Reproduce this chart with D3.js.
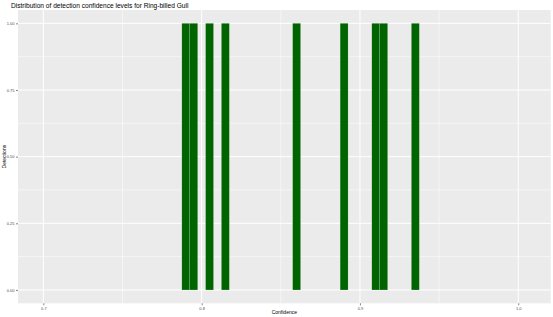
<!DOCTYPE html>
<html>
  <head>
    <meta charset="utf-8">
    <title>Ring-billed Gull confidence</title>
    <script src="https://cdnjs.cloudflare.com/ajax/libs/d3/7.8.5/d3.min.js"></script>
    <style>
      body { margin: 0; background-color: #FFF; }
      svg { display: block; font-family: "Liberation Sans", Arial, sans-serif; }
    </style>
  </head>
  <body>
    <svg width="553" height="317"></svg>
    <script>
      // histogram bins (bin centre, count)
      var binCenters = [0.790, 0.795, 0.805, 0.815, 0.860, 0.890, 0.910, 0.915, 0.935];
      var counts = [1, 1, 1, 1, 1, 1, 1, 1, 1];
      var binWidth = 0.005;
      var xTicks = [0.7, 0.8, 0.9, 1.0];
      var xMinor = [0.75, 0.85, 0.95];
      var yTicks = [0, 0.25, 0.5, 0.75, 1];
      var yMinor = [0.125, 0.375, 0.625, 0.875];

      var svg = d3.select("svg");
      // panel edges (note: "top" is reserved on window, so use pTop etc.)
      var pLeft = 18, pRight = 550.7, pTop = 10, pBottom = 303.3;

      var x = d3.scaleLinear().domain([0.684, 1.0205]).range([pLeft, pRight]);
      var y = d3.scaleLinear().domain([-0.05, 1.05]).range([pBottom, pTop]);

      // panel
      svg.append("rect")
        .attr("x", pLeft).attr("y", pTop)
        .attr("width", pRight - pLeft).attr("height", pBottom - pTop)
        .attr("fill", "#EBEBEB");

      // gridlines
      svg.selectAll(".ymin").data(yMinor).enter().append("line")
        .attr("x1", pLeft).attr("x2", pRight)
        .attr("y1", function(d) { return y(d); }).attr("y2", function(d) { return y(d); })
        .attr("stroke", "#FFF").attr("stroke-width", 0.5);
      svg.selectAll(".xmin").data(xMinor).enter().append("line")
        .attr("y1", pTop).attr("y2", pBottom)
        .attr("x1", function(d) { return x(d); }).attr("x2", function(d) { return x(d); })
        .attr("stroke", "#FFF").attr("stroke-width", 0.5);
      svg.selectAll(".ymaj").data(yTicks).enter().append("line")
        .attr("x1", pLeft).attr("x2", pRight)
        .attr("y1", function(d) { return y(d); }).attr("y2", function(d) { return y(d); })
        .attr("stroke", "#FFF").attr("stroke-width", 1);
      svg.selectAll(".xmaj").data(xTicks).enter().append("line")
        .attr("y1", pTop).attr("y2", pBottom)
        .attr("x1", function(d) { return x(d); }).attr("x2", function(d) { return x(d); })
        .attr("stroke", "#FFF").attr("stroke-width", 1);

      // bars
      svg.selectAll(".bar").data(binCenters).enter().append("rect")
        .attr("x", function(d) { return x(d - binWidth / 2); })
        .attr("width", function(d) { return x(d + binWidth / 2) - x(d - binWidth / 2); })
        .attr("y", function(d, i) { return y(counts[i]); })
        .attr("height", function(d, i) { return y(0) - y(counts[i]); })
        .attr("fill", "#006400")
        .attr("stroke", "rgba(255,255,255,0.35)")
        .attr("stroke-width", 0.4);

      // axes
      var xAxis = d3.axisBottom(x).tickValues(xTicks).tickFormat(d3.format(".1f")).tickSize(2).tickPadding(1.5);
      var gx = svg.append("g").attr("transform", "translate(0," + pBottom + ")").call(xAxis);
      var yAxis = d3.axisLeft(y).tickValues(yTicks).tickFormat(d3.format(".2f")).tickSize(2).tickPadding(1.5);
      var gy = svg.append("g").attr("transform", "translate(" + pLeft + ",0)").call(yAxis);

      [gx, gy].forEach(function(g) {
        g.select(".domain").remove();
        g.selectAll(".tick line").attr("stroke", "#333").attr("stroke-width", 0.6);
        g.selectAll(".tick text").attr("fill", "#4D4D4D").style("font-size", "4px")
          .style("font-family", "'Liberation Sans', Arial, sans-serif");
      });

      // titles
      svg.append("text")
        .attr("x", 11).attr("y", 8)
        .style("font-size", "6.6px")
        .text("Distribution of detection confidence levels for Ring-billed Gull");

      svg.append("text")
        .attr("x", (pLeft + pRight) / 2).attr("y", 314)
        .attr("text-anchor", "middle")
        .style("font-size", "5px")
        .text("Confidence");

      svg.append("text")
        .attr("transform", "translate(6," + ((pTop + pBottom) / 2) + ") rotate(-90)")
        .attr("text-anchor", "middle")
        .style("font-size", "5px")
        .text("Detections");
    </script>
  </body>
</html>
